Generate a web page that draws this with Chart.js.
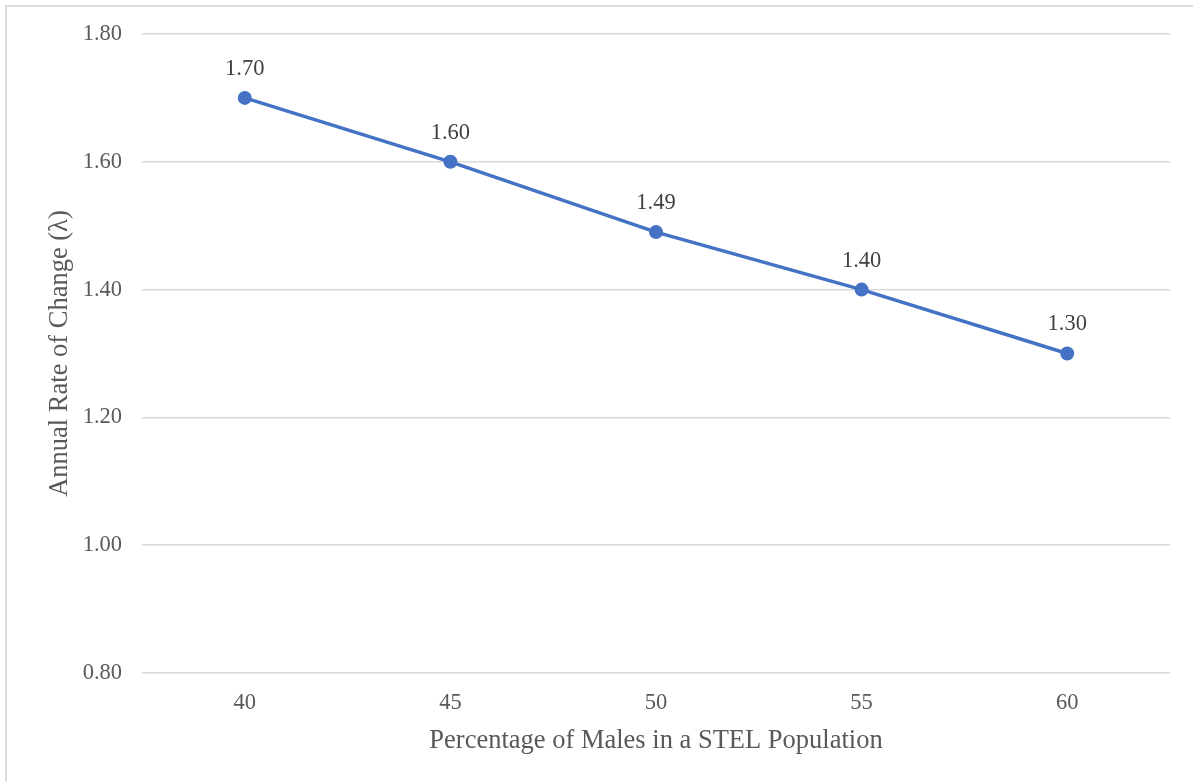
<!DOCTYPE html>
<html>
<head>
<meta charset="utf-8">
<script src="https://cdn.jsdelivr.net/npm/chart.js@4/dist/chart.umd.min.js"></script>
<style>
  html, body { margin: 0; padding: 0; background: #ffffff; overflow: hidden; }
  #wrap { position: relative; width: 1193px; height: 782px; }
  #frame {
    position: absolute; left: 5px; top: 5px; width: 1400px; height: 1000px;
    border-left: 2px solid #dcdcdc; border-top: 2px solid #dcdcdc;
  }
  #chart { position: absolute; left: 0; top: 0; }
</style>
</head>
<body>
<div id="wrap">
  <div id="frame"></div>
  <canvas id="chart" width="1193" height="782"></canvas>
</div>
<script>
// Share of males in the population (%) and the resulting annual growth rate (lambda)
const malePercent = ['40', '45', '50', '55', '60'];
const lambdaValues = [1.70, 1.60, 1.49, 1.40, 1.30];
const yTickMin = 0.8;
const yTickMax = 1.8;
const yTickStep = 0.2;

const FONT = 'Liberation Serif, "Times New Roman", serif';
const TEXT = '#595959';
const GRID = '#d9d9d9';
const BLUE = '#4472c4';

// Writes each point's value above its marker
const pointValueLabels = {
  id: 'pointValueLabels',
  afterDatasetsDraw(chart) {
    const ctx = chart.ctx;
    const meta = chart.getDatasetMeta(0);
    const data = chart.data.datasets[0].data;
    ctx.save();
    ctx.font = '22.5px ' + FONT;
    ctx.fillStyle = '#404040';
    ctx.textAlign = 'center';
    ctx.textBaseline = 'middle';
    meta.data.forEach((pt, i) => {
      ctx.fillText(Number(data[i]).toFixed(2), pt.x, pt.y - 29);
    });
    ctx.restore();
  }
};

new Chart(document.getElementById('chart'), {
  type: 'line',
  data: {
    labels: malePercent,
    datasets: [{
      data: lambdaValues,
      borderColor: BLUE,
      backgroundColor: BLUE,
      borderWidth: 3.5,
      pointRadius: 7,
      pointHoverRadius: 7,
      pointBackgroundColor: BLUE,
      pointBorderColor: BLUE,
      pointBorderWidth: 0,
      tension: 0,
      fill: false
    }]
  },
  options: {
    responsive: false,
    devicePixelRatio: 1,
    animation: false,
    events: [],
    layout: { padding: { top: 34, right: 23, left: 0, bottom: 0 } },
    plugins: {
      legend: { display: false },
      tooltip: { enabled: false }
    },
    scales: {
      x: {
        type: 'category',
        offset: true,
        grid: { display: false, drawTicks: false },
        border: { display: false },
        ticks: {
          color: TEXT,
          font: { family: FONT, size: 22.5 },
          padding: 17,
          maxRotation: 0
        },
        title: {
          display: true,
          text: 'Percentage of Males in a STEL Population',
          color: TEXT,
          font: { family: FONT, size: 26.5 },
          padding: { top: 0, bottom: 25 }
        },
        afterFit(scale) { scale.height = 109; }
      },
      y: {
        min: yTickMin,
        max: yTickMax,
        grid: { color: GRID, lineWidth: 1.5, drawTicks: false },
        border: { display: false },
        ticks: {
          stepSize: yTickStep,
          color: TEXT,
          font: { family: FONT, size: 22.5 },
          padding: 20,
          callback: (v) => Number(v).toFixed(2)
        },
        title: {
          display: true,
          text: 'Annual Rate of Change (λ)',
          color: TEXT,
          font: { family: FONT, size: 26.5 },
          padding: { top: 44, bottom: 0 }
        },
        afterFit(scale) { scale.width = 142; }
      }
    }
  },
  plugins: [pointValueLabels]
});
</script>
</body>
</html>
